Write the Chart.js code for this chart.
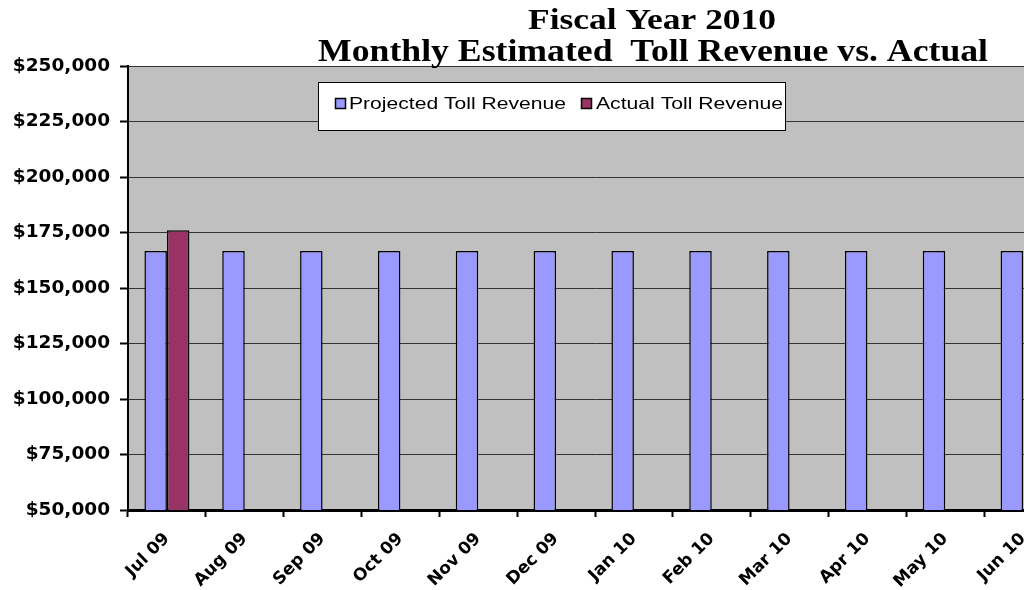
<!DOCTYPE html>
<html>
<head>
<meta charset="utf-8">
<script src="https://cdn.jsdelivr.net/npm/chart.js@4"></script>
<style>
html,body{margin:0;padding:0;background:#fff;overflow:hidden;width:1024px;height:590px;}
#wrap{width:1024px;height:590px;overflow:hidden;position:relative;}
canvas{display:block;}
</style>
</head>
<body>
<div id="wrap"><canvas id="c" width="1070" height="590"></canvas></div>
<script>
const titleLines = ['Fiscal Year 2010', 'Monthly Estimated  Toll Revenue vs. Actual'];
const categories = ['Jul 09','Aug 09','Sep 09','Oct 09','Nov 09','Dec 09','Jan 10','Feb 10','Mar 10','Apr 10','May 10','Jun 10'];
const projectedLabel = 'Projected Toll Revenue';
const actualLabel = 'Actual Toll Revenue';
const projected = [166667,166667,166667,166667,166667,166667,166667,166667,166667,166667,166667,166667];
const actual = [176000,null,null,null,null,null,null,null,null,null,null,null];
const yMin = 50000, yMax = 250000, yStep = 25000;

const plotBg = {
  id:'plotBg',
  beforeDraw(chart){
    const {ctx, chartArea:a} = chart;
    ctx.save();
    ctx.fillStyle = '#C0C0C0';
    ctx.fillRect(a.left, a.top, a.right-a.left, a.bottom-a.top);
    ctx.restore();
  }
};

function stretchedText(ctx, text, cx, y, targetW, font){
  ctx.save();
  ctx.font = font;
  const w = ctx.measureText(text).width;
  const s = targetW / w;
  ctx.translate(cx, y);
  ctx.scale(s, 1);
  ctx.textAlign = 'center';
  ctx.textBaseline = 'alphabetic';
  ctx.fillText(text, 0, 0);
  ctx.restore();
}

const titlePlugin = {
  id:'titlePlugin',
  afterDraw(chart){
    const ctx = chart.ctx;
    ctx.save();
    ctx.fillStyle = '#000';
    stretchedText(ctx, titleLines[0], 652, 29, 248, 'bold 30px "Liberation Serif"');
    stretchedText(ctx, titleLines[1], 653, 61, 670, 'bold 32px "Liberation Serif"');
    ctx.restore();
  }
};

const legendPlugin = {
  id:'legendPlugin',
  afterDraw(chart){
    const ctx = chart.ctx;
    ctx.save();
    ctx.fillStyle = '#fff';
    ctx.fillRect(318, 82, 467, 48);
    ctx.strokeStyle = '#000';
    ctx.lineWidth = 1;
    ctx.strokeRect(318.5, 82.5, 467, 48);
    const ds = chart.data.datasets;
    const items = [
      {sx:335, tx:349, tw:217},
      {sx:581, tx:596, tw:187}
    ];
    ds.forEach((d,i)=>{
      const it = items[i];
      ctx.fillStyle = d.backgroundColor;
      ctx.fillRect(it.sx, 98, 10, 10);
      ctx.strokeStyle = '#000';
      ctx.lineWidth = 1.5;
      ctx.strokeRect(it.sx+0.5, 98.5, 10, 10);
      ctx.font = '17px "Liberation Sans"';
      const w = ctx.measureText(d.label).width;
      ctx.save();
      ctx.translate(it.tx, 109);
      ctx.scale(it.tw / w, 1);
      ctx.fillStyle = '#000';
      ctx.textAlign = 'left';
      ctx.textBaseline = 'alphabetic';
      ctx.fillText(d.label, 0, 0);
      ctx.restore();
    });
    ctx.restore();
  }
};

new Chart(document.getElementById('c'), {
  type:'bar',
  data:{
    labels: categories,
    datasets:[
      {label: projectedLabel, data: projected, backgroundColor:'#9999FF', borderColor:'#000', borderWidth:1.5, categoryPercentage:0.578, barPercentage:1},
      {label: actualLabel, data: actual, backgroundColor:'#993366', borderColor:'#000', borderWidth:1.5, categoryPercentage:0.578, barPercentage:1}
    ]
  },
  options:{
    responsive:false,
    animation:false,
    layout:{padding:{left:0, top:66, right:8, bottom:0}},
    plugins:{legend:{display:false}, title:{display:false}, tooltip:{enabled:false}},
    scales:{
      x:{
        offset:true,
        grid:{drawOnChartArea:false, drawTicks:true, tickLength:7, tickColor:'#000', tickWidth:2},
        border:{display:true, color:'#000', width:3},
        ticks:{color:'#000', font:{family:'"DejaVu Sans"', size:17, weight:'bold'}, maxRotation:45, minRotation:45, padding:12, autoSkip:false},
        afterFit(s){ s.height = 80; }
      },
      y:{
        min:yMin, max:yMax,
        grid:{color:'#333', lineWidth:1, drawTicks:true, tickLength:8, tickColor:'#000', tickWidth:2},
        border:{display:true, color:'#000', width:2},
        ticks:{stepSize:yStep, color:'#000', padding:10, font:{family:'"DejaVu Sans"', size:18.5, weight:'bold'},
          callback:(v)=>'$'+Number(v).toLocaleString('en-US')},
        afterFit(s){ s.width = 128; }
      }
    }
  },
  plugins:[plotBg, titlePlugin, legendPlugin]
});
</script>
</body>
</html>
